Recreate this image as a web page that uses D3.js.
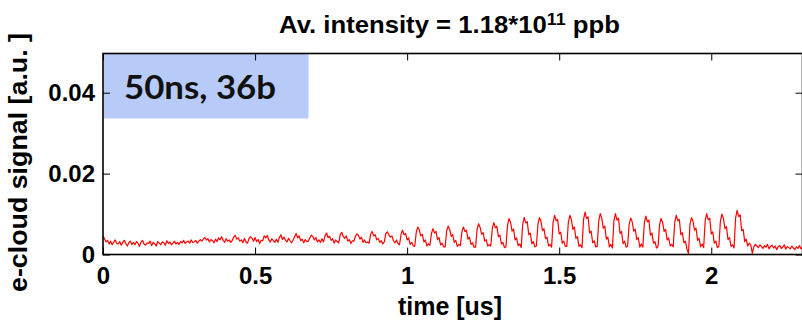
<!DOCTYPE html>
<html>
<head>
<meta charset="utf-8">
<script src="https://cdn.jsdelivr.net/npm/d3@7"></script>
<style>
  body { margin: 0; background: #fff; }
  svg { display: block; }
  text { font-family: "Liberation Sans", Arial, sans-serif; font-weight: bold; fill: #000; }
</style>
</head>
<body>
<div id="chart"></div>
<script>
// e-cloud signal, one sample every 5 ns (0.005 us)
var sampleStep = 0.005; // us
var signal = [
  // 0 - 0.32 us, before the bunch train
  0.0046,0.0039,0.0031,0.0035,0.0026,0.0033,0.0024,0.0030,0.0036,0.0028,
  0.0026,0.0032,0.0023,0.0030,0.0035,0.0027,0.0021,0.0029,0.0033,0.0025,
  0.0030,0.0024,0.0032,0.0028,0.0020,0.0031,0.0035,0.0026,0.0023,0.0029,
  0.0027,0.0033,0.0022,0.0030,0.0026,0.0021,0.0032,0.0028,0.0024,0.0031,
  0.0029,0.0023,0.0034,0.0027,0.0031,0.0024,0.0028,0.0033,0.0026,0.0030,
  0.0025,0.0032,0.0029,0.0035,0.0027,0.0031,0.0033,0.0028,0.0036,0.0030,
  0.0031,0.0035,0.0028,0.0033,0.0037,
  // bunches 1-13, buried in the noise
  0.0033,0.0038,0.0042,0.0036,0.0039,0.0031,0.0037,0.0034,0.0029,0.0038,
  0.0032,0.0041,0.0036,0.0044,0.0035,0.0030,0.0039,0.0033,0.0036,0.0030,
  0.0035,0.0043,0.0047,0.0038,0.0041,0.0033,0.0036,0.0029,0.0040,0.0031,
  0.0028,0.0039,0.0044,0.0040,0.0033,0.0042,0.0032,0.0037,0.0027,0.0035,
  0.0034,0.0046,0.0041,0.0047,0.0036,0.0031,0.0039,0.0034,0.0030,0.0038,
  0.0030,0.0042,0.0049,0.0037,0.0043,0.0035,0.0031,0.0040,0.0034,0.0029,
  0.0036,0.0044,0.0052,0.0041,0.0046,0.0034,0.0038,0.0029,0.0037,0.0032,
  0.0033,0.0041,0.0048,0.0044,0.0036,0.0042,0.0031,0.0036,0.0030,0.0039,
  0.0031,0.0046,0.0053,0.0042,0.0045,0.0035,0.0039,0.0028,0.0036,0.0032,
  0.0029,0.0049,0.0055,0.0044,0.0040,0.0046,0.0033,0.0037,0.0027,0.0034,
  0.0033,0.0045,0.0051,0.0047,0.0038,0.0043,0.0030,0.0036,0.0029,0.0031,
  0.0028,0.0050,0.0057,0.0046,0.0049,0.0036,0.0040,0.0030,0.0034,0.0026,
  0.0031,0.0052,0.0056,0.0048,0.0043,0.0046,0.0034,0.0029,0.0036,0.0027,
  // bunches 14-36
  0.0024,0.0050,0.0060,0.0049,0.0052,0.0036,0.0041,0.0025,0.0030,0.0021,
  0.0020,0.0055,0.0068,0.0061,0.0046,0.0050,0.0031,0.0036,0.0021,0.0026,
  0.0023,0.0052,0.0064,0.0053,0.0057,0.0037,0.0042,0.0024,0.0028,0.0019,
  0.0019,0.0058,0.0070,0.0062,0.0045,0.0049,0.0030,0.0035,0.0020,0.0025,
  0.0022,0.0056,0.0068,0.0057,0.0060,0.0038,0.0043,0.0025,0.0029,0.0018,
  0.0018,0.0062,0.0076,0.0067,0.0050,0.0054,0.0033,0.0037,0.0021,0.0024,
  0.0021,0.0064,0.0079,0.0066,0.0070,0.0044,0.0048,0.0026,0.0030,0.0017,
  0.0019,0.0072,0.0089,0.0080,0.0058,0.0063,0.0036,0.0041,0.0022,0.0026,
  0.0017,0.0075,0.0092,0.0078,0.0081,0.0049,0.0053,0.0027,0.0032,0.0019,
  0.0021,0.0074,0.0091,0.0082,0.0059,0.0064,0.0039,0.0043,0.0021,0.0025,
  0.0018,0.0080,0.0097,0.0083,0.0087,0.0051,0.0055,0.0028,0.0033,0.0020,
  0.0020,0.0079,0.0097,0.0086,0.0062,0.0068,0.0040,0.0044,0.0020,0.0024,
  0.0017,0.0086,0.0105,0.0089,0.0093,0.0053,0.0058,0.0029,0.0034,0.0019,
  0.0020,0.0083,0.0101,0.0090,0.0065,0.0070,0.0038,0.0043,0.0019,0.0025,
  0.0016,0.0084,0.0101,0.0085,0.0090,0.0052,0.0057,0.0027,0.0033,0.0018,
  0.0021,0.0074,0.0090,0.0081,0.0058,0.0063,0.0037,0.0042,0.0018,0.0026,
  0.0018,0.0078,0.0095,0.0081,0.0085,0.0048,0.0053,0.0028,0.0032,0.0016,
  0.0020,0.0073,0.0089,0.0080,0.0057,0.0062,0.0036,0.0041,0.0021,0.0025,
  0.0019,0.0080,0.0097,0.0083,0.0087,0.0049,0.0054,0.0029,0.0033,0.0014,
  0.0002,0.0075,0.0091,0.0082,0.0060,0.0065,0.0035,0.0040,0.0019,0.0026,
  0.0017,0.0083,0.0101,0.0086,0.0090,0.0051,0.0056,0.0028,0.0033,0.0017,
  0.0020,0.0082,0.0100,0.0089,0.0064,0.0069,0.0037,0.0042,0.0020,0.0024,
  0.0016,0.0090,0.0109,0.0094,0.0098,0.0059,0.0062,0.0032,0.0038,0.0021,
  // after the train
  0.0028,0.0023,0.0003,0.0019,0.0025,0.0021,0.0017,0.0024,0.0020,0.0015,
  0.0022,0.0018,0.0025,0.0014,0.0020,0.0023,0.0016,0.0021,0.0012,0.0019,
  0.0022,0.0015,0.0018,0.0024,0.0013,0.0020,0.0017,0.0014,0.0021,0.0016,
  0.0012,0.0019,0.0015,0.0022,0.0014,0.0017
];

var xTicks = [0, 0.5, 1, 1.5, 2];
var xTickLabels = ["0", "0.5", "1", "1.5", "2"];
var yTicks = [0, 0.02, 0.04];
var yTickLabels = ["0", "0.02", "0.04"];
var xMax = 2.3, yMax = 0.0497;

var titleMain = "Av. intensity = 1.18*10", titleSup = "11", titleUnit = " ppb";
var xLabel = "time [us]";
var yLabel = "e-cloud signal [a.u. ]";
var boxLabel = "50ns, 36b";

function init() {
    var w = 802, h = 322,
        margin = {top: 53.5, right: -0.5, bottom: 67.5, left: 103},
        width = w - margin.left - margin.right,
        height = h - margin.top - margin.bottom;

    var svg = d3.select("#chart").append("svg")
        .attr("width", w)
        .attr("height", h);

    var g = svg.append("g")
        .attr("transform", "translate(" + margin.left + "," + margin.top + ")");

    var xScale = d3.scaleLinear().domain([0, xMax]).range([0, width]);
    var yScale = d3.scaleLinear().domain([0, yMax]).range([height, 0]);

    // blue label box in the top left corner
    g.append("rect")
        .attr("x", 0.5).attr("y", 0)
        .attr("width", 205).attr("height", 65)
        .attr("fill", "#b8cbf8");
    g.append("text")
        .attr("x", 21).attr("y", 45.5)
        .attr("textLength", 152)
        .attr("lengthAdjust", "spacingAndGlyphs")
        .style("font-family", "Lato, 'Open Sans', sans-serif")
        .style("font-size", "33px")
        .style("fill", "#111")
        .text(boxLabel);

    g.append("clipPath").attr("id", "clip")
        .append("rect").attr("width", width).attr("height", height);

    var line = d3.line()
        .x((d, i) => xScale(i * sampleStep))
        .y(d => yScale(d));

    g.append("path")
        .datum(signal)
        .attr("clip-path", "url(#clip)")
        .attr("d", line)
        .style("fill", "none")
        .style("stroke", "#ff0000")
        .style("stroke-width", 1.2)
        .style("stroke-linejoin", "round");

    // axes, ticks pointing inwards
    var xAxis = g.append("g")
        .attr("transform", "translate(0," + height + ")")
        .call(d3.axisBottom(xScale).tickValues(xTicks)
            .tickFormat((d, i) => xTickLabels[i])
            .tickSizeInner(-7).tickSizeOuter(0).tickPadding(12.5));
    var yAxis = g.append("g")
        .call(d3.axisLeft(yScale).tickValues(yTicks)
            .tickFormat((d, i) => yTickLabels[i])
            .tickSizeInner(-7).tickSizeOuter(0).tickPadding(8));
    var topAxis = g.append("g")
        .call(d3.axisTop(xScale).tickValues(xTicks).tickFormat("")
            .tickSizeInner(-7).tickSizeOuter(0));
    var rightAxis = g.append("g")
        .attr("transform", "translate(" + width + ",0)")
        .call(d3.axisRight(yScale).tickValues(yTicks).tickFormat("")
            .tickSizeInner(-7).tickSizeOuter(0));

    [xAxis, yAxis, topAxis, rightAxis].forEach(function(a) {
        a.select(".domain").remove();
        a.selectAll(".tick line").style("stroke", "#000").style("stroke-width", 1);
        a.selectAll(".tick text")
            .style("font-family", "'Liberation Sans', Arial, sans-serif")
            .style("font-weight", "bold")
            .style("font-size", "24px")
            .style("fill", "#000");
    });

    g.append("rect")
        .attr("width", width).attr("height", height)
        .style("fill", "none")
        .style("stroke", "#000")
        .style("stroke-width", 1.6);

    // title with superscript
    var title = svg.append("text")
        .attr("x", 449.5).attr("y", 33)
        .style("text-anchor", "middle")
        .style("font-size", "23px");
    title.append("tspan").text(titleMain);
    title.append("tspan").attr("dy", -8).style("font-size", "16px").text(titleSup);
    title.append("tspan").attr("dy", 8).text(titleUnit);
    var tw = title.node().getComputedTextLength();
    title.attr("transform", "translate(449.5,0) scale(" + (341 / tw) + ",1) translate(-449.5,0)");

    svg.append("text")
        .attr("x", 450).attr("y", 315)
        .style("text-anchor", "middle")
        .style("font-size", "25px")
        .text(xLabel);

    svg.append("text")
        .attr("transform", "translate(27,162.5) rotate(-90)")
        .attr("textLength", 259)
        .attr("lengthAdjust", "spacingAndGlyphs")
        .style("text-anchor", "middle")
        .style("font-size", "25px")
        .text(yLabel);
}

init();
</script>
</body>
</html>
